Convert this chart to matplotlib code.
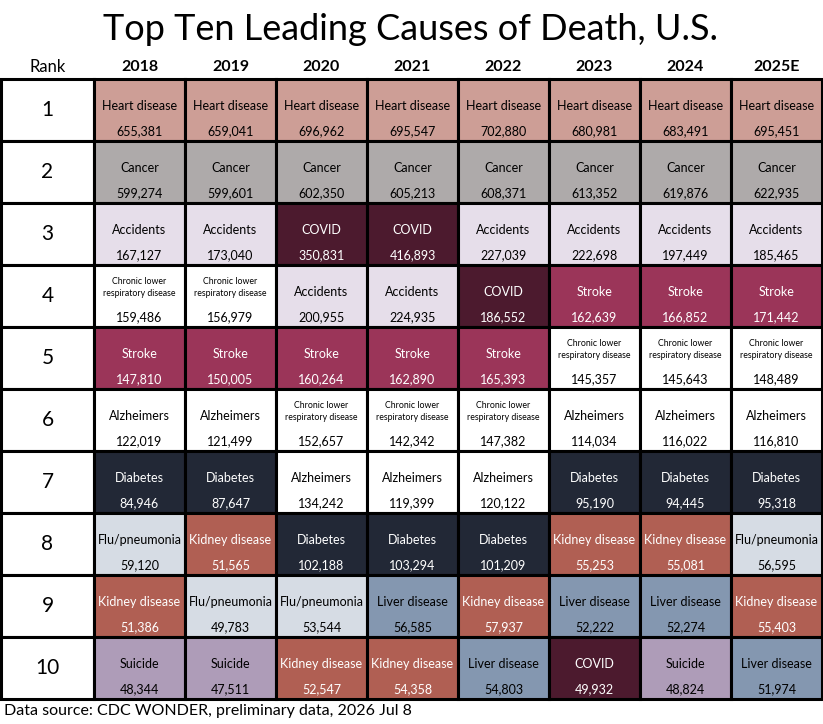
import matplotlib
matplotlib.use("Agg")
import matplotlib.pyplot as plt
from matplotlib.patches import Rectangle

plt.rcParams["font.family"] = ["Lato", "DejaVu Sans"]

years = ["2018", "2019", "2020", "2021", "2022", "2023", "2024", "2025E"]
ranks = list(range(1, 11))

# causes[year_index][rank_index]
causes = [
    ["Heart disease", "Cancer", "Accidents", "CLRD", "Stroke", "Alzheimers",
     "Diabetes", "Flu/pneumonia", "Kidney disease", "Suicide"],
    ["Heart disease", "Cancer", "Accidents", "CLRD", "Stroke", "Alzheimers",
     "Diabetes", "Kidney disease", "Flu/pneumonia", "Suicide"],
    ["Heart disease", "Cancer", "COVID", "Accidents", "Stroke", "CLRD",
     "Alzheimers", "Diabetes", "Flu/pneumonia", "Kidney disease"],
    ["Heart disease", "Cancer", "COVID", "Accidents", "Stroke", "CLRD",
     "Alzheimers", "Diabetes", "Liver disease", "Kidney disease"],
    ["Heart disease", "Cancer", "Accidents", "COVID", "Stroke", "CLRD",
     "Alzheimers", "Diabetes", "Kidney disease", "Liver disease"],
    ["Heart disease", "Cancer", "Accidents", "Stroke", "CLRD", "Alzheimers",
     "Diabetes", "Kidney disease", "Liver disease", "COVID"],
    ["Heart disease", "Cancer", "Accidents", "Stroke", "CLRD", "Alzheimers",
     "Diabetes", "Kidney disease", "Liver disease", "Suicide"],
    ["Heart disease", "Cancer", "Accidents", "Stroke", "CLRD", "Alzheimers",
     "Diabetes", "Flu/pneumonia", "Kidney disease", "Liver disease"],
]

deaths = [
    [655381, 599274, 167127, 159486, 147810, 122019, 84946, 59120, 51386, 48344],
    [659041, 599601, 173040, 156979, 150005, 121499, 87647, 51565, 49783, 47511],
    [696962, 602350, 350831, 200955, 160264, 152657, 134242, 102188, 53544, 52547],
    [695547, 605213, 416893, 224935, 162890, 142342, 119399, 103294, 56585, 54358],
    [702880, 608371, 227039, 186552, 165393, 147382, 120122, 101209, 57937, 54803],
    [680981, 613352, 222698, 162639, 145357, 114034, 95190, 55253, 52222, 49932],
    [683491, 619876, 197449, 166852, 145643, 116022, 94445, 55081, 52274, 48824],
    [695451, 622935, 185465, 171442, 148489, 116810, 95318, 56595, 55403, 51974],
]

fill = {
    "Heart disease": "#CD9E96", "Cancer": "#AEAAAA", "Accidents": "#E6DEEA",
    "COVID": "#4C1A2E", "Stroke": "#9B3559", "CLRD": "#FFFFFF",
    "Alzheimers": "#FFFFFF", "Diabetes": "#222836", "Flu/pneumonia": "#D6DCE4",
    "Kidney disease": "#B05F53", "Liver disease": "#8497B0", "Suicide": "#AE9CB8",
}
light_text = {"COVID", "Stroke", "Diabetes", "Kidney disease"}

fig = plt.figure(figsize=(8.23, 7.24), dpi=100)
ax = fig.add_axes([0, 0, 1, 1])
ax.set_xlim(0, 823)
ax.set_ylim(724, 0)
ax.axis("off")

x0, rank_w, col_w = 1, 93, 91
y0, row_h = 79, 62

ax.text(411, 30, "Top Ten Leading Causes of Death, U.S.", fontsize=26,
        ha="center", va="center")
ax.text(x0 + rank_w / 2, 67, "Rank", fontsize=12, ha="center", va="center")
for j, yr in enumerate(years):
    ax.text(x0 + rank_w + col_w * (j + 0.5), 67, yr, fontsize=11.5,
            fontweight="bold", ha="center", va="center")

for i, r in enumerate(ranks):
    top = y0 + i * row_h
    ax.add_patch(Rectangle((x0, top), rank_w, row_h, facecolor="white",
                           edgecolor="black", lw=2.2))
    ax.text(x0 + rank_w / 2, top + row_h / 2, str(r), fontsize=15,
            ha="center", va="center")
    for j in range(len(years)):
        c = causes[j][i]
        left = x0 + rank_w + j * col_w
        ax.add_patch(Rectangle((left, top), col_w, row_h, facecolor=fill[c],
                               edgecolor="black", lw=2.2))
        tc = "white" if c in light_text else "black"
        cx = left + col_w / 2
        if c == "CLRD":
            ax.text(cx, top + 17, "Chronic lower", fontsize=6.3, ha="center",
                    va="center", color=tc)
            ax.text(cx, top + 28, "respiratory disease", fontsize=6.3,
                    ha="center", va="center", color=tc)
        else:
            ax.text(cx, top + 26.5, c, fontsize=9, ha="center", va="center",
                    color=tc)
        ax.text(cx, top + 52, f"{deaths[j][i]:,}", fontsize=9, ha="center",
                va="center", color=tc)

ax.text(4, 711, "Data source: CDC WONDER, preliminary data, 2026 Jul 8",
        fontsize=11.5, ha="left", va="center")

fig.savefig("out.png", dpi=100)
